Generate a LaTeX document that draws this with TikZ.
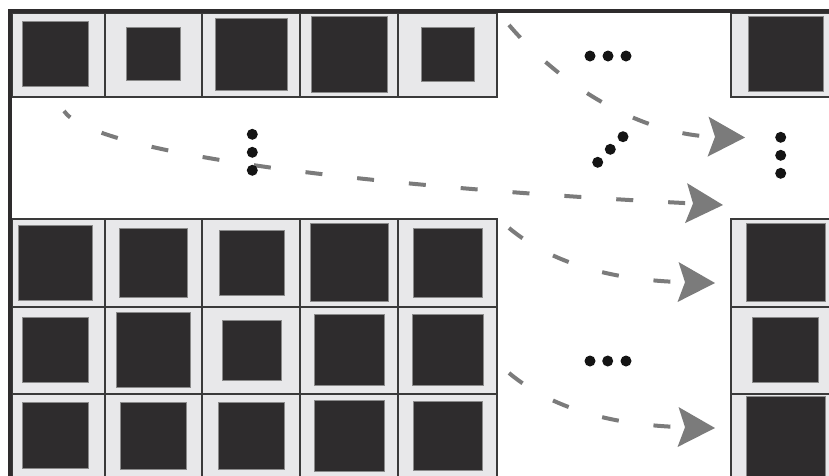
\documentclass[tikz,border=0pt]{standalone}
\usetikzlibrary{arrows.meta}
\definecolor{cellfill}{HTML}{E8E8EA}
\definecolor{sqfill}{HTML}{2E2C2D}
\definecolor{sqedge}{HTML}{8A8A8A}
\definecolor{celledge}{HTML}{3A3A3A}
\definecolor{framec}{HTML}{2E2C2D}
\definecolor{arrowc}{HTML}{7B7B7B}
\definecolor{dotc}{HTML}{141414}
\tikzset{
  cellbox/.style={fill=cellfill, draw=celledge, line width=1.4pt},
  sqbox/.style={fill=sqfill, draw=sqedge, line width=0.8pt},
  flow/.style={draw=arrowc, line width=4pt, dash pattern=on 17pt off 35pt,
    -{Stealth[length=37pt,width=40pt,inset=7pt,line width=0pt]}},
  dotmark/.style={fill=dotc, circle, inner sep=0pt, minimum size=11pt},
}
\begin{document}
\begin{tikzpicture}[x=1pt,y=-1pt]
\useasboundingbox (0,0) rectangle (829,475);
\clip (0,0) rectangle (829,475);
% cells
\foreach \x/\xx in {12/105,105/202,202/300,300/398,398/497,731/835}{
  \draw[cellbox] (\x,13) rectangle (\xx,97);
  \foreach \y/\yy in {219/307,307/394,394/482}{
    \draw[cellbox] (\x,\y) rectangle (\xx,\yy);
  }
}
% dark squares
\foreach \a/\b/\c/\d in {
  22.7/21/88.3/86.7, 126.7/27.3/180/80.7, 215.7/18.3/287.3/90, 311.7/16/387.3/92, 421/27.3/474.3/81, 748.3/16.7/823.3/91.7,
  18.3/225.3/92.7/300, 119/228/187.7/297.3, 219/230/284/295.7, 310/223.3/388.7/301.7, 413.3/228/482/297.3, 746.7/223.3/825/301.7,
  22.7/317.3/88.3/382.7, 116/312.3/190.3/387, 222/320.3/281.3/380, 314.3/314.7/384.3/385.3, 412.3/314.7/483/385.3, 752.7/317.3/818.3/382.7,
  22.7/402.7/88.3/468.7, 120.7/402.7/186/469.3, 218.3/402.7/284.7/469, 314.3/400.3/384.3/471.3, 413.3/401/482/470.3, 746.7/396.7/825/485}{
  \draw[sqbox] (\a,\b) rectangle (\c,\d);
}
% frame
\draw[framec, line width=4pt, line join=miter] (10,480) -- (10,11) -- (835,11);
% arrow end points
\coordinate (a1s) at (509,25);  \coordinate (a1e) at (745,137.5);
\coordinate (a2s) at (64,111);  \coordinate (a2e) at (723,205);
\coordinate (a3s) at (509,228); \coordinate (a3e) at (715,283);
\coordinate (a4s) at (509,373); \coordinate (a4e) at (715,428);
\draw[flow] (a1s) .. controls (560,85) and (640,135) .. (a1e);
\draw[flow, dash phase=8pt] (a2s) .. controls (90,150) and (330,185) .. (a2e);
\draw[flow] (a3s) .. controls (545,258) and (600,280) .. (a3e);
\draw[flow] (a4s) .. controls (545,403) and (600,425) .. (a4e);
% dots
\node[dotmark] (t1) at (590,56) {};
\node[dotmark] (t2) at (608,56) {};
\node[dotmark] (t3) at (626,56) {};
\node[dotmark] (m1) at (597.7,162.3) {};
\node[dotmark] (m2) at (610.3,149.3) {};
\node[dotmark] (m3) at (623,136.7) {};
\node[dotmark] (r1) at (780.7,137.3) {};
\node[dotmark] (r2) at (780.7,155.3) {};
\node[dotmark] (r3) at (780.7,173.3) {};
\node[dotmark] (l1) at (252.3,134.3) {};
\node[dotmark] (l2) at (252.3,152.3) {};
\node[dotmark] (l3) at (252.3,170.3) {};
\node[dotmark] (b1) at (590,361) {};
\node[dotmark] (b2) at (607.7,361) {};
\node[dotmark] (b3) at (626,361) {};
\end{tikzpicture}
\end{document}
